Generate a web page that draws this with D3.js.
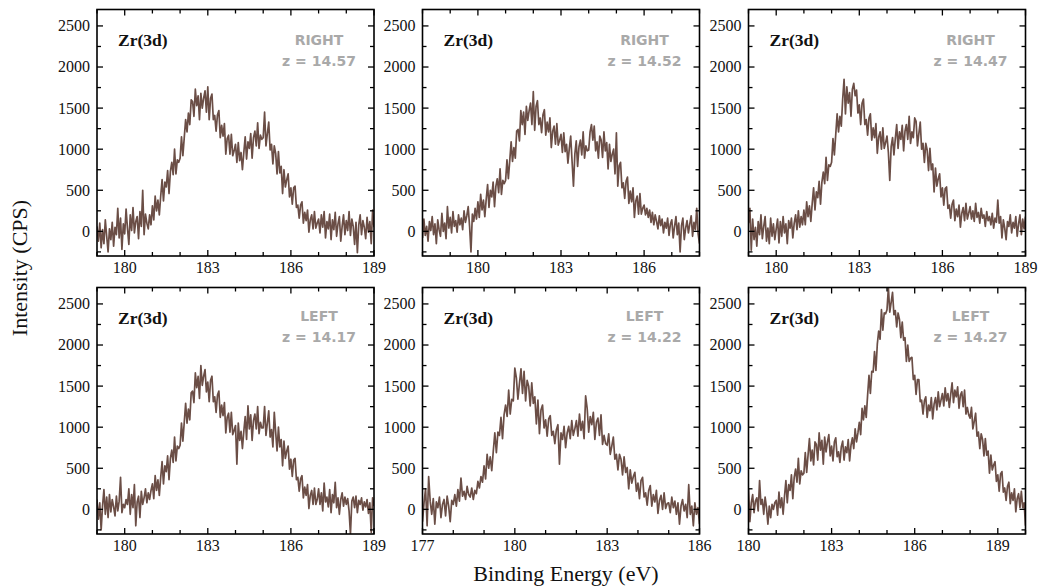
<!DOCTYPE html>
<html>
<head>
<meta charset="utf-8">
<script src="https://cdn.jsdelivr.net/npm/d3@7"></script>
<style>
  body { margin: 0; background: #fff; }
  svg { display: block; }
</style>
</head>
<body>
<svg width="1038" height="588"></svg>
<script>
// energy grid of each scan: first value, last value, step (eV)
const STEP = 0.05;
const startEnergies = [179, 178, 179, 179, 177, 180];
const endEnergies = [189, 188, 189, 189, 186, 190];
const xTickLabels = [
  [180, 183, 186, 189],
  [180, 183, 186],
  [180, 183, 186, 189],
  [180, 183, 186, 189],
  [177, 180, 183, 186],
  [180, 183, 186, 189],
];
const yTickLabels = [0, 500, 1000, 1500, 2000, 2500];
const peakName = 'Zr(3d)';
const sides = ['RIGHT', 'RIGHT', 'RIGHT', 'LEFT', 'LEFT', 'LEFT'];
const zLabels = ['z = 14.57', 'z = 14.52', 'z = 14.47', 'z = 14.17', 'z = 14.22', 'z = 14.27'];

// intensity (CPS), one value per 0.05 eV (one row = 1 eV)
const countsRight1457 = [
  60, -120, 100, -200, 20, -150, 140, -60, -250, 30, -100, 110, -180, 50, -40, 280, -80, 160, -220, 90,
  -30, 270, 40, -160, 200, 10, 290, -20, 120, 180, -90, 240, 60, 500, -40, 210, 100, 30, 200, 80,
  310, 140, 430, 250, 380, 200, 430, 630, 370, 600, 540, 740, 460, 730, 840, 690, 1000, 700, 870, 840,
  890, 1150, 920, 1140, 1360, 1210, 1440, 1300, 1600, 1580, 1400, 1730, 1530, 1650, 1360, 1680, 1500, 1620, 1710, 1450,
  1760, 1360, 1620, 1670, 1360, 1410, 1220, 1420, 1470, 1140, 1290, 1160, 1310, 940, 1130, 1170, 940, 1180, 920, 980,
  1060, 840, 1080, 860, 960, 750, 960, 1150, 880, 1090, 1010, 1190, 890, 1140, 1220, 1040, 1320, 1010, 1170, 1120,
  1140, 1450, 1040, 1190, 1330, 990, 1060, 820, 1040, 950, 700, 970, 710, 790, 460, 750, 540, 630, 700, 420,
  530, 330, 530, 550, 290, 320, 160, 320, 360, 100, 230, 130, 260, -10, 140, 200, 30, 240, 40, 100,
  150, -20, 200, 50, 240, -80, 120, 30, 210, -100, 140, 20, 230, -60, 90, 180, -120, 60, 200, -40,
  130, 10, 240, -50, 150, 60, -160, 110, -260, 80, 200, -40, 130, 50, -90, 170, -10, 120, -150, 260,
  50,
];
const countsRight1452 = [
  -80, 150, -50, 60, -120, 120, 10, 180, -40, 90, -150, 140, 20, -60, 220, 0, 100, -90, 300, 40,
  170, -20, 240, 60, 130, -10, 200, 80, 160, 20, 250, 110, 190, 300, 60, -250, 210, 120, 280, 150,
  360, 170, 450, 260, 380, 180, 390, 570, 290, 500, 420, 600, 300, 550, 640, 470, 760, 450, 620, 580,
  620, 870, 640, 860, 1090, 850, 1020, 890, 1220, 1240, 1100, 1470, 1300, 1450, 1180, 1520, 1350, 1470, 1560, 1300,
  1700, 1230, 1520, 1590, 1300, 1380, 1200, 1420, 1480, 1170, 1330, 1210, 1380, 1020, 1220, 1280, 1060, 1310, 1050, 1110,
  1180, 960, 1200, 970, 1060, 830, 1010, 1160, 850, 550, 940, 1100, 790, 1030, 1110, 930, 1210, 890, 1040, 980,
  990, 1210, 1300, 1110, 1280, 980, 1090, 890, 1160, 1110, 900, 1210, 980, 1080, 760, 1060, 850, 940, 1000, 700,
  1200, 550, 800, 840, 530, 590, 400, 610, 660, 340, 490, 360, 530, 170, 370, 430, 210, 460, 210, 280,
  320, 200, 280, 170, 260, 110, 230, 80, 200, 120, 30, 190, 70, 150, -20, 110, 40, 160, -50, 90,
  140, -80, 60, 180, -40, 100, -250, 70, 160, -100, 40, 130, -20, 90, 190, -60, 110, 20, 280, -30,
  -150,
];
const countsRight1447 = [
  100, 280, -230, 150, -100, 50, -180, 120, -40, 200, -90, 60, 180, -120, 40, -150, 160, -60, 90, -100,
  30, 150, -140, 120, -60, 180, -20, 90, -150, 130, 40, 160, -80, 100, 200, 20, 250, 50, 180, 80,
  260, 80, 360, 180, 310, 120, 340, 530, 260, 480, 410, 610, 330, 600, 720, 580, 900, 620, 810, 790,
  840, 1130, 930, 1180, 1430, 1210, 1400, 1280, 1610, 1850, 1430, 1760, 1560, 1690, 1400, 1730, 1800, 1650, 1720, 1440,
  1540, 1300, 1560, 1610, 1300, 1360, 1170, 1380, 1430, 1110, 1260, 1140, 1310, 950, 1150, 1210, 1000, 1260, 1010, 1080,
  1160, 960, 620, 1030, 1140, 930, 1130, 1300, 1010, 1210, 1120, 1290, 980, 1220, 1300, 1120, 1400, 1070, 1210, 1140,
  1380, 1340, 1040, 1190, 1330, 1000, 1070, 840, 1070, 990, 740, 1010, 750, 820, 480, 770, 550, 640, 700, 420,
  530, 320, 520, 540, 280, 320, 160, 330, 380, 130, 270, 180, 320, 50, 220, 290, 130, 340, 150, 220,
  300, 150, 250, 120, 340, 170, 230, 100, 280, 160, 200, 60, 240, 130, 180, 80, 220, 40, 160, 110,
  380, 100, 180, -80, 140, 40, -100, 120, 60, 200, -20, 110, 40, 180, -60, 90, 200, -40, 150, 30,
  180,
];
const countsLeft1417 = [
  120, -120, 80, -250, 40, 240, -60, 150, -100, 180, -30, 120, 30, -80, 160, -20, 100, 390, -40, 60,
  20, 120, 60, 250, -60, 180, 20, 300, -200, 90, 160, -100, 220, 60, 140, 250, 80, 200, 120, 230,
  310, 130, 410, 230, 360, 170, 390, 580, 310, 530, 460, 650, 360, 620, 720, 570, 880, 590, 770, 740,
  780, 1050, 830, 1060, 1290, 1050, 1220, 1090, 1420, 1440, 1300, 1660, 1480, 1620, 1350, 1750, 1510, 1620, 1700, 1430,
  1550, 1310, 1570, 1620, 1310, 1370, 1180, 1390, 1440, 1120, 1270, 1140, 1300, 930, 1120, 1170, 940, 1180, 910, 960,
  1020, 550, 1050, 840, 950, 740, 950, 1130, 850, 1260, 980, 1150, 840, 1080, 1160, 980, 1250, 920, 1060, 990,
  990, 1250, 900, 1050, 1200, 880, 970, 760, 1180, 940, 710, 1000, 760, 850, 530, 830, 620, 710, 770, 490,
  610, 400, 600, 620, 360, 390, 220, 370, 410, 140, 270, 170, 300, 10, 170, 230, 60, 260, 60, 120,
  250, 60, 200, -20, 320, 90, 150, 30, 240, -40, 180, 80, 330, 20, 140, -60, 120, 200, 40, 150,
  60, 130, -20, -300, 100, 150, 20, 160, -40, 110, 60, 140, -10, 90, 30, 120, -50, 80, -280, 140,
  40,
];
const countsLeft1422 = [
  -150, 80, 250, -200, 400, 100, -60, 130, -180, 90, 20, 150, -100, 60, 120, -80, 160, 40, -150, 110,
  60, 180, 40, 240, 100, 380, 160, 220, 120, 280, 180, 150, 260, 120, 230, 190, 340, 260, 400, 330,
  530, 370, 670, 500, 640, 470, 710, 930, 690, 940, 900, 1120, 860, 1150, 1270, 1130, 1450, 1160, 1340, 1320,
  1720, 1600, 1340, 1530, 1710, 1410, 1680, 1320, 1570, 1500, 1260, 1540, 1290, 1370, 1040, 1330, 920, 1210, 1270, 990,
  1090, 890, 1100, 1140, 900, 950, 800, 970, 1030, 550, 930, 850, 1010, 750, 930, 1010, 860, 1080, 900, 980,
  1080, 890, 1160, 960, 1070, 860, 1380, 1230, 940, 1130, 1030, 1180, 850, 1060, 1110, 900, 1150, 790, 900, 800,
  780, 920, 670, 770, 880, 610, 670, 480, 670, 610, 420, 640, 450, 510, 250, 480, 320, 400, 450, 220,
  320, 130, 350, 390, 150, 200, 50, 230, 290, 40, 180, 90, 230, -50, 110, 170, 0, 200, 10, 70,
  80, -40, 150, 20, 100, -60, 80, -180, 40, 120, -20, 60, -100, 300, -60, 40, -200, 80, -60, 20,
  -180,
];
const countsLeft1427 = [
  250, -150, 80, 180, -40, 100, 140, -20, 350, 60, 120, -60, 150, 20, -180, 40, -100, 60, 0, 80,
  110, -70, 210, 20, 140, -60, 160, 350, 80, 300, 230, 420, 130, 390, 490, 330, 620, 310, 470, 420,
  440, 690, 450, 660, 860, 590, 720, 540, 820, 790, 600, 930, 720, 840, 550, 880, 700, 820, 910, 650,
  770, 590, 820, 870, 640, 700, 570, 760, 830, 600, 760, 690, 850, 590, 780, 870, 740, 980, 820, 930,
  1060, 910, 1230, 1090, 1260, 1120, 1390, 1630, 1410, 1680, 1670, 1920, 1690, 2010, 2170, 2070, 2430, 2180, 2390, 2380,
  2430, 2700, 2400, 2520, 2640, 2370, 2420, 2220, 2390, 2310, 2090, 2280, 2060, 2090, 1800, 2000, 1800, 1840, 1850, 1580,
  1630, 1400, 1580, 1580, 1310, 1330, 1160, 1320, 1370, 1120, 1270, 1200, 1360, 1100, 1280, 1360, 1210, 1430, 1250, 1330,
  1410, 1260, 1480, 1320, 1410, 1240, 1400, 1540, 1300, 1450, 1370, 1490, 1230, 1390, 1430, 1250, 1450, 1160, 1240, 1150,
  1110, 1240, 980, 1070, 1170, 890, 940, 740, 920, 850, 650, 860, 660, 710, 440, 660, 480, 540, 580, 340,
  420, 220, 430, 460, 210, 260, 110, 280, 330, 70, 200, 110, 250, -30, 130, 190, 20, 220, 20, 80,
  -200,
];
const allCounts = [countsRight1457, countsRight1452, countsRight1447, countsLeft1417, countsLeft1422, countsLeft1427];

// layout
const colLeft = [97, 422.5, 748.5];
const rowTop = [9.5, 287.5];
const plotW = 277;
const plotH = 246.5;
const lineColor = '#6b4e46';
const serif = '"Liberation Serif", "Times New Roman", serif';

const svg = d3.select('svg');

allCounts.forEach((counts, i) => {
  const left = colLeft[i % 3];
  const top = rowTop[Math.floor(i / 3)];

  const x = d3.scaleLinear().domain([startEnergies[i], endEnergies[i]]).range([0, plotW]);
  const y = d3.scaleLinear().domain([-300, 2700]).range([plotH, 0]);

  const g = svg.append('g').attr('transform', `translate(${left},${top})`);

  g.append('clipPath').attr('id', 'clip' + i)
    .append('rect').attr('width', plotW).attr('height', plotH);

  const points = counts.map((c, k) => [startEnergies[i] + k * STEP, c]);
  const line = d3.line().x(d => x(d[0])).y(d => y(d[1]));

  g.append('path')
    .datum(points)
    .attr('clip-path', `url(#clip${i})`)
    .attr('fill', 'none')
    .attr('stroke', lineColor)
    .attr('stroke-width', 1.7)
    .attr('stroke-linejoin', 'round')
    .attr('d', line);

  // inward ticks on all four sides, every 1 eV and every 250 CPS
  const xTicks = d3.range(startEnergies[i], endEnergies[i] + 0.001, 1);
  const yTicks = d3.range(-250, 2700, 250);
  const tickG = g.append('g').attr('stroke', '#000').attr('stroke-width', 1.3);
  xTicks.forEach(v => {
    const len = xTickLabels[i].includes(v) ? 6 : 4;
    tickG.append('line').attr('x1', x(v)).attr('x2', x(v)).attr('y1', plotH).attr('y2', plotH - len);
    tickG.append('line').attr('x1', x(v)).attr('x2', x(v)).attr('y1', 0).attr('y2', len);
  });
  yTicks.forEach(v => {
    const len = v % 500 === 0 ? 6 : 4;
    tickG.append('line').attr('x1', 0).attr('x2', len).attr('y1', y(v)).attr('y2', y(v));
    tickG.append('line').attr('x1', plotW).attr('x2', plotW - len).attr('y1', y(v)).attr('y2', y(v));
  });

  g.append('rect')
    .attr('width', plotW).attr('height', plotH)
    .attr('fill', 'none').attr('stroke', '#000').attr('stroke-width', 1.6);

  // tick labels
  g.selectAll('.xlab')
    .data(xTickLabels[i])
    .enter()
    .append('text')
    .attr('x', d => x(d))
    .attr('y', plotH + 17)
    .attr('text-anchor', 'middle')
    .style('font-family', serif)
    .style('font-size', '16px')
    .attr('fill', '#111')
    .text(d => d);

  g.selectAll('.ylab')
    .data(yTickLabels)
    .enter()
    .append('text')
    .attr('x', -7)
    .attr('y', d => y(d))
    .attr('dy', '0.34em')
    .attr('text-anchor', 'end')
    .style('font-family', serif)
    .style('font-size', '16px')
    .attr('fill', '#111')
    .text(d => d);

  // in-panel labels
  const rowShift = i < 3 ? 0 : -2;
  g.append('text')
    .attr('x', 21)
    .attr('y', 36)
    .style('font-family', serif)
    .style('font-size', '17.5px')
    .style('font-weight', 'bold')
    .attr('fill', '#111')
    .text(peakName);

  g.append('text')
    .attr('x', plotW - 55)
    .attr('y', 35.5 + rowShift)
    .attr('text-anchor', 'middle')
    .style('font-family', '"DejaVu Sans", sans-serif')
    .style('font-size', '14px')
    .style('font-weight', 'bold')
    .attr('fill', '#a9a9a9')
    .text(sides[i]);

  g.append('text')
    .attr('x', plotW - 55)
    .attr('y', 56.5 + rowShift)
    .attr('text-anchor', 'middle')
    .style('font-family', '"DejaVu Sans", sans-serif')
    .style('font-size', '14px')
    .style('font-weight', 'bold')
    .attr('fill', '#a9a9a9')
    .text(zLabels[i]);
});

// shared axis titles
svg.append('text')
  .attr('transform', 'translate(27,268) rotate(-90)')
  .attr('text-anchor', 'middle')
  .style('font-family', serif)
  .style('font-size', '22px')
  .attr('fill', '#111')
  .text('Intensity (CPS)');

svg.append('text')
  .attr('x', 566)
  .attr('y', 581)
  .attr('text-anchor', 'middle')
  .style('font-family', serif)
  .style('font-size', '22px')
  .attr('fill', '#111')
  .text('Binding Energy (eV)');
</script>
</body>
</html>
